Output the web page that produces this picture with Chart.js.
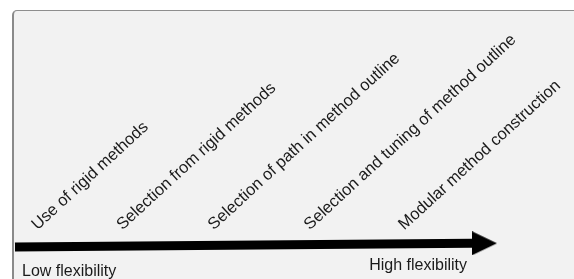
<!DOCTYPE html>
<html>
<head>
<meta charset="utf-8">
<script src="https://cdn.jsdelivr.net/npm/chart.js@4"></script>
<style>
  html, body { margin: 0; padding: 0; background: #fff; overflow: hidden; }
  #wrap { position: relative; width: 574px; height: 279px; }
  #box {
    position: absolute; left: 12px; top: 10px; width: 620px; height: 320px;
    background: #f2f2f2; border: 1px solid #8e8e8e; border-left: 2px solid #8a8a8a;
    border-radius: 5px;
  }
  #flexChart { position: absolute; left: 0; top: 0; }
</style>
</head>
<body>
<div id="wrap">
  <div id="box"></div>
  <canvas id="flexChart" width="574" height="279"></canvas>
</div>
<script>
// methods, placed along the flexibility axis (0 = arrow tail, 100 = arrow head)
const methods = [
  'Use of rigid methods',
  'Selection from rigid methods',
  'Selection of path in method outline',
  'Selection and tuning of method outline',
  'Modular method construction'
];
const methodPos = [4.9, 23.5, 43.5, 64.5, 85.2];
const arrowX = [0, 100];
const arrowY = [-0.06, 0.05];
const endLabels = ['Low flexibility', 'High flexibility'];

// arrow head used as point style on the last point
const head = document.createElement('canvas');
head.width = 50;
head.height = 24;
const hctx = head.getContext('2d');
hctx.fillStyle = '#000';
hctx.beginPath();
hctx.moveTo(25, 0);
hctx.lineTo(50, 12);
hctx.lineTo(25, 24);
hctx.closePath();
hctx.fill();

const labelPlugin = {
  id: 'methodLabels',
  afterDraw(chart) {
    const { ctx } = chart;
    const x = chart.scales.x;
    const y = chart.scales.y;
    const y0 = y.getPixelForValue(0);
    ctx.save();
    ctx.fillStyle = '#1a1a1a';
    ctx.textBaseline = 'alphabetic';
    ctx.textAlign = 'left';
    ctx.font = '16.5px "Liberation Sans", Arial, sans-serif';
    methods.forEach((m, i) => {
      ctx.save();
      ctx.translate(x.getPixelForValue(methodPos[i]), y0 - 14.5);
      ctx.rotate(-42.5 * Math.PI / 180);
      ctx.fillText(m, 0, 0);
      ctx.restore();
    });

    ctx.font = '16px "Liberation Sans", Arial, sans-serif';
    ctx.textAlign = 'left';
    ctx.fillText(endLabels[0], x.getPixelForValue(arrowX[0]) + 7, y.getPixelForValue(arrowY[0]) + 29);
    ctx.textAlign = 'right';
    ctx.fillText(endLabels[1], x.getPixelForValue(arrowX[1]) - 5, y.getPixelForValue(arrowY[1]) + 27);
    ctx.restore();
  }
};

const ctx = document.getElementById('flexChart').getContext('2d');
const flexChart = new Chart(ctx, {
  type: 'line',
  data: {
    datasets: [{
      data: arrowX.map((v, i) => ({ x: v, y: arrowY[i] })),
      borderColor: '#000',
      borderWidth: 9,
      borderCapStyle: 'butt',
      pointRadius: [0, 12],
      pointStyle: head,
      clip: false
    }]
  },
  options: {
    responsive: false,
    animation: false,
    events: [],
    layout: { autoPadding: false, padding: { left: 15, right: 102, top: 211, bottom: 0 } },
    plugins: { legend: { display: false }, tooltip: { enabled: false } },
    scales: {
      x: { type: 'linear', min: 0, max: 100, display: false },
      y: { type: 'linear', min: -1, max: 1, display: false }
    }
  },
  plugins: [labelPlugin]
});
</script>
</body>
</html>
